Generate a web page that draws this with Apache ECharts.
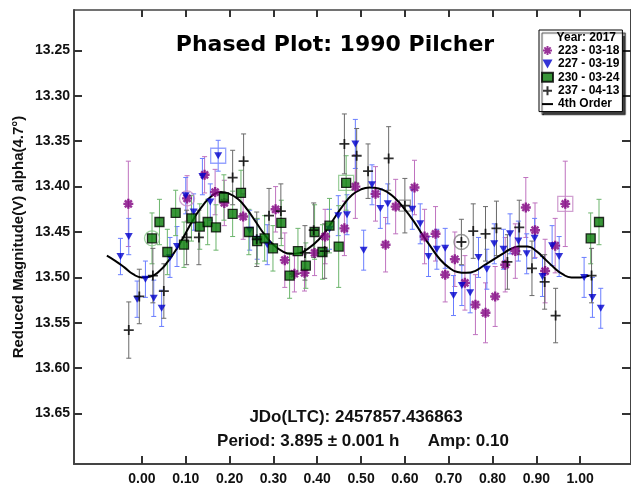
<!DOCTYPE html>
<html>
<head>
<meta charset="utf-8">
<script src="https://cdn.jsdelivr.net/npm/echarts@6.0.0/dist/echarts.min.js"></script>
<style>
html, body { margin: 0; padding: 0; background: #fff; }
#chart { width: 631px; height: 487px; }
</style>
</head>
<body>
<div id="chart"></div>
<script>
// tick labels
const xTicks = [0, 0.1, 0.2, 0.3, 0.4, 0.5, 0.6, 0.7, 0.8, 0.9, 1.0]
const yTicks = [13.25, 13.30, 13.35, 13.40, 13.45, 13.50, 13.55, 13.60, 13.65]

// session 223 - 03-18
const phase223 = [-0.031, 0.103, 0.143, 0.167, 0.188, 0.231, 0.305, 0.326, 0.348, 0.371, 0.394, 0.418, 0.462, 0.487, 0.533, 0.556, 0.579, 0.622, 0.645, 0.670, 0.692, 0.714, 0.737, 0.761, 0.784, 0.806, 0.829, 0.852, 0.876, 0.897, 0.920, 0.943, 0.966]
const mag223 = [13.419, 13.413, 13.387, 13.406, 13.418, 13.433, 13.425, 13.481, 13.496, 13.495, 13.473, 13.455, 13.446, 13.400, 13.408, 13.464, 13.422, 13.401, 13.455, 13.452, 13.497, 13.480, 13.506, 13.530, 13.539, 13.521, 13.486, 13.471, 13.423, 13.448, 13.493, 13.465, 13.419]
const err223 = [0.047, 0.025, 0.02, 0.025, 0.025, 0.025, 0.025, 0.03, 0.02, 0.02, 0.025, 0.03, 0.03, 0.035, 0.03, 0.03, 0.03, 0.03, 0.03, 0.03, 0.03, 0.03, 0.03, 0.033, 0.033, 0.033, 0.03, 0.03, 0.033, 0.03, 0.035, 0.03, 0.047]

// session 227 - 03-19
const phase227 = [-0.049, -0.030, -0.011, 0.008, 0.027, 0.045, 0.064, 0.080, 0.100, 0.118, 0.138, 0.156, 0.174, 0.246, 0.263, 0.286, 0.428, 0.448, 0.468, 0.487, 0.506, 0.525, 0.544, 0.561, 0.617, 0.635, 0.654, 0.673, 0.692, 0.711, 0.730, 0.749, 0.768, 0.787, 0.804, 0.825, 0.840, 0.859, 0.878, 0.896, 0.914, 0.936, 0.952, 1.009, 1.028, 1.047]
const mag227 = [13.477, 13.455, 13.524, 13.502, 13.523, 13.534, 13.478, 13.466, 13.410, 13.428, 13.389, 13.417, 13.366, 13.448, 13.458, 13.464, 13.447, 13.432, 13.431, 13.353, 13.470, 13.398, 13.424, 13.419, 13.425, 13.441, 13.477, 13.469, 13.468, 13.520, 13.509, 13.517, 13.478, 13.491, 13.463, 13.469, 13.452, 13.460, 13.474, 13.457, 13.499, 13.465, 13.477, 13.500, 13.522, 13.534]
const err227 = [0.02, 0.02, 0.02, 0.02, 0.02, 0.02, 0.022, 0.022, 0.02, 0.02, 0.02, 0.02, 0.017, 0.022, 0.022, 0.022, 0.022, 0.022, 0.022, 0.027, 0.022, 0.022, 0.022, 0.022, 0.022, 0.022, 0.022, 0.022, 0.022, 0.022, 0.022, 0.022, 0.022, 0.022, 0.022, 0.022, 0.022, 0.022, 0.022, 0.022, 0.022, 0.022, 0.022, 0.022, 0.022, 0.022]

// session 230 - 03-24
const phase230 = [0.023, 0.040, 0.058, 0.077, 0.096, 0.113, 0.132, 0.150, 0.169, 0.187, 0.207, 0.226, 0.244, 0.263, 0.280, 0.299, 0.318, 0.337, 0.356, 0.374, 0.394, 0.412, 0.428, 0.449, 0.466, 1.024, 1.043]
const mag230 = [13.457, 13.439, 13.472, 13.429, 13.464, 13.435, 13.444, 13.439, 13.445, 13.412, 13.430, 13.407, 13.450, 13.460, 13.457, 13.468, 13.440, 13.498, 13.471, 13.487, 13.450, 13.472, 13.443, 13.466, 13.396, 13.457, 13.439]
const err230 = [0.028, 0.025, 0.025, 0.025, 0.025, 0.025, 0.025, 0.025, 0.025, 0.025, 0.025, 0.025, 0.025, 0.025, 0.025, 0.025, 0.025, 0.025, 0.025, 0.025, 0.03, 0.03, 0.03, 0.045, 0.03, 0.028, 0.025]

// session 237 - 04-13
const phase237 = [-0.030, -0.006, 0.025, 0.050, 0.102, 0.130, 0.207, 0.232, 0.262, 0.290, 0.317, 0.372, 0.392, 0.417, 0.462, 0.490, 0.516, 0.563, 0.600, 0.729, 0.756, 0.784, 0.809, 0.834, 0.861, 0.890, 0.919, 0.944, 1.026]
const mag237 = [13.558, 13.521, 13.498, 13.515, 13.456, 13.456, 13.390, 13.372, 13.458, 13.432, 13.427, 13.473, 13.448, 13.471, 13.353, 13.366, 13.383, 13.369, 13.421, 13.461, 13.449, 13.452, 13.446, 13.483, 13.445, 13.490, 13.505, 13.542, 13.498]
const err237 = [0.031, 0.03, 0.03, 0.03, 0.03, 0.03, 0.03, 0.03, 0.03, 0.03, 0.03, 0.03, 0.03, 0.03, 0.033, 0.03, 0.03, 0.035, 0.03, 0.025, 0.03, 0.03, 0.03, 0.03, 0.03, 0.03, 0.03, 0.03, 0.03]

// 4th order fit
const curvePhase = [-0.08, -0.06, -0.04, -0.02, 0.00, 0.02, 0.04, 0.06, 0.08, 0.10, 0.12, 0.14, 0.16, 0.18, 0.20, 0.22, 0.24, 0.26, 0.28, 0.30, 0.32, 0.34, 0.36, 0.38, 0.40, 0.42, 0.44, 0.46, 0.48, 0.50, 0.52, 0.54, 0.56, 0.58, 0.60, 0.62, 0.64, 0.66, 0.68, 0.70, 0.72, 0.74, 0.76, 0.78, 0.80, 0.82, 0.84, 0.86, 0.88, 0.90, 0.92, 0.94, 0.96, 0.98, 1.00, 1.02]
const curveMag = [13.476, 13.482, 13.489, 13.4965, 13.500, 13.499, 13.493, 13.482, 13.468, 13.451, 13.434, 13.420, 13.410, 13.406, 13.408, 13.414, 13.425, 13.439, 13.453, 13.464, 13.471, 13.474, 13.473, 13.468, 13.460, 13.449, 13.434, 13.420, 13.409, 13.403, 13.401, 13.402, 13.406, 13.414, 13.425, 13.438, 13.453, 13.467, 13.480, 13.489, 13.494, 13.495, 13.493, 13.487, 13.481, 13.475, 13.469, 13.466, 13.466, 13.471, 13.480, 13.489, 13.4965, 13.500, 13.500, 13.498]

// highlighted points (rings / boxes)
const hlPhase = [0.023, 0.103, 0.729, 0.174, 0.466, 0.966, 0.600]
const hlMag = [13.457, 13.413, 13.461, 13.366, 13.396, 13.419, 13.421]
const hlShape = ['circle', 'circle', 'circle', 'rect', 'rect', 'rect', 'rect']
const hlSet = ['230', '223', '237', '227', '230', '223', '237']

const sets = [
	{ key: '223', name: '223 - 03-18', phase: phase223, mag: mag223, err: err223 },
	{ key: '227', name: '227 - 03-19', phase: phase227, mag: mag227, err: err227 },
	{ key: '230', name: '230 - 03-24', phase: phase230, mag: mag230, err: err230 },
	{ key: '237', name: '237 - 04-13', phase: phase237, mag: mag237, err: err237 }
]

const barColor = { '223': '#bf72bf', '227': '#6a7eff', '230': '#6cb56c', '237': '#6a6a6a' }
const ringColor = { '223': '#c68ac6', '227': '#7d8dff', '230': '#85c485', '237': '#808080' }

const markStyle = {
	'223': {
		symbol: 'path://M5,0L5,10M0,5L10,5M1.5,1.5L8.5,8.5M8.5,1.5L1.5,8.5',
		symbolSize: 10,
		itemStyle: { color: '#800080', borderColor: '#800080', borderWidth: 2.4 }
	},
	'227': {
		symbol: 'path://M0,0L10,0L5,9Z',
		symbolSize: [8, 7],
		itemStyle: { color: '#0000cc' }
	},
	'230': {
		symbol: 'rect',
		symbolSize: 9,
		itemStyle: { color: '#087a08', borderColor: '#000', borderWidth: 1.3 }
	},
	'237': {
		symbol: 'path://M5,0L5,10M0,5L10,5',
		symbolSize: 10,
		itemStyle: { color: '#000', borderColor: '#000', borderWidth: 1.8 }
	}
}

const xMin = -0.155
const xMax = 1.116
const yMin = 13.2055
const yMax = 13.7055
const axisColor = '#444'
const font = 'Liberation Sans, Arial, sans-serif'

const renderErr = (params, api) => {
	const x = api.value(0)
	const y = api.value(1)
	const e = api.value(2)
	const top = api.coord([x, y - e])
	const bot = api.coord([x, y + e])
	const hw = 2.5
	const style = { stroke: api.visual('color'), lineWidth: 1 }
	return {
		type: 'group',
		children: [
			{ type: 'line', shape: { x1: top[0], y1: top[1], x2: bot[0], y2: bot[1] }, style },
			{ type: 'line', shape: { x1: top[0] - hw, y1: top[1], x2: top[0] + hw, y2: top[1] }, style },
			{ type: 'line', shape: { x1: bot[0] - hw, y1: bot[1], x2: bot[0] + hw, y2: bot[1] }, style }
		]
	}
}

const errSeries = sets.map((s) => ({
	type: 'custom',
	name: 'err' + s.key,
	renderItem: renderErr,
	itemStyle: { color: barColor[s.key] },
	encode: { x: 0, y: 1 },
	z: 2,
	silent: true,
	data: s.phase.map((p, i) => [p, s.mag[i], s.err[i]])
}))

const ringSeries = {
	type: 'scatter',
	name: 'rings',
	z: 3,
	silent: true,
	data: hlPhase.map((p, i) => ({
		value: [p, hlMag[i]],
		symbol: hlShape[i],
		symbolSize: hlSet[i] === '237' && hlShape[i] === 'rect' ? 11 : 15,
		itemStyle: { color: 'rgba(0,0,0,0)', borderColor: ringColor[hlSet[i]], borderWidth: 1.3 }
	}))
}

const pointSeries = sets.map((s) => ({
	type: 'scatter',
	name: s.name,
	z: 5,
	symbol: markStyle[s.key].symbol,
	symbolSize: markStyle[s.key].symbolSize,
	itemStyle: markStyle[s.key].itemStyle,
	data: s.phase.map((p, i) => [p, s.mag[i]])
}))

const curveSeries = {
	type: 'line',
	name: '4th Order',
	z: 4,
	smooth: 0.5,
	symbol: 'none',
	lineStyle: { color: '#000', width: 2 },
	itemStyle: { color: '#000' },
	data: curvePhase.map((p, i) => [p, curveMag[i]])
}

const chart = echarts.init(document.getElementById('chart'), null, { renderer: 'canvas' })

const option = {
	animation: false,
	backgroundColor: '#fff',
	title: {
		text: 'Phased Plot: 1990 Pilcher',
		left: 330,
		top: 29,
		textAlign: 'center',
		textStyle: { fontFamily: 'DejaVu Sans', fontWeight: 'bold', fontSize: 22, color: '#000' }
	},
	grid: { left: 74, top: 10, right: -1, bottom: 23 },
	xAxis: [
		{
			type: 'value',
			min: xMin,
			max: xMax,
			position: 'bottom',
			axisLine: { show: true, onZero: false, lineStyle: { color: axisColor, width: 2 } },
			axisTick: { show: true, inside: true, length: 8, customValues: xTicks, lineStyle: { color: '#333', width: 2 } },
			splitLine: { show: false },
			axisLabel: {
				customValues: xTicks,
				margin: 8,
				color: '#111',
				fontFamily: font,
				fontWeight: 'bold',
				fontSize: 14,
				formatter: (v) => v.toFixed(2)
			}
		},
		{
			type: 'value',
			min: xMin,
			max: xMax,
			position: 'top',
			axisLine: { show: true, onZero: false, lineStyle: { color: axisColor, width: 1.5 } },
			axisTick: { show: true, inside: true, length: 7, customValues: xTicks, lineStyle: { color: '#333', width: 2 } },
			splitLine: { show: false },
			axisLabel: { show: false, customValues: xTicks }
		}
	],
	yAxis: [
		{
			type: 'value',
			inverse: true,
			min: yMin,
			max: yMax,
			position: 'left',
			axisLine: { show: true, onZero: false, lineStyle: { color: axisColor, width: 2 } },
			axisTick: { show: true, inside: true, length: 8, customValues: yTicks, lineStyle: { color: '#333', width: 2 } },
			splitLine: { show: false },
			axisLabel: {
				customValues: yTicks,
				margin: 4,
				color: '#111',
				fontFamily: font,
				fontWeight: 'bold',
				fontSize: 14,
				formatter: (v) => v.toFixed(2)
			}
		},
		{
			type: 'value',
			inverse: true,
			min: yMin,
			max: yMax,
			position: 'right',
			axisLine: { show: true, onZero: false, lineStyle: { color: axisColor, width: 2 } },
			axisTick: { show: true, inside: true, length: 9, customValues: yTicks, lineStyle: { color: '#333', width: 2 } },
			splitLine: { show: false },
			axisLabel: { show: false, customValues: yTicks }
		}
	],
	legend: {
		orient: 'vertical',
		left: 539,
		top: 30,
		padding: [14.5, 3, 1.5, 2],
		itemWidth: 11,
		itemHeight: 9,
		itemGap: 1.4,
		selectedMode: false,
		backgroundColor: '#fff',
		borderColor: '#000',
		borderWidth: 1,
		shadowColor: 'rgba(0,0,0,0.75)',
		shadowBlur: 1,
		shadowOffsetX: 3,
		shadowOffsetY: 3,
		textStyle: { fontFamily: font, fontWeight: 'bold', fontSize: 12, color: '#000' },
		data: sets.map((s) => s.name).concat([{ name: '4th Order', itemStyle: { opacity: 0 } }])
	},
	graphic: [
		{
			type: 'text',
			right: 15,
			top: 32,
			style: { text: 'Year: 2017', font: 'bold 12px ' + font, fill: '#000' },
			z: 100
		},
		{
			type: 'text',
			x: 19,
			y: 237,
			rotation: Math.PI / 2,
			style: {
				text: 'Reduced Magnitude(V) alpha(4.7°)',
				font: 'bold 15px ' + font,
				fill: '#111',
				textAlign: 'center',
				textVerticalAlign: 'middle'
			}
		},
		{
			type: 'text',
			x: 356,
			y: 417,
			style: {
				text: 'JDo(LTC): 2457857.436863',
				font: 'bold 17px ' + font,
				fill: '#111',
				textAlign: 'center',
				textVerticalAlign: 'middle'
			}
		},
		{
			type: 'text',
			x: 363,
			y: 441,
			style: {
				text: 'Period: 3.895 ± 0.001 h      Amp: 0.10',
				font: 'bold 17px ' + font,
				fill: '#111',
				textAlign: 'center',
				textVerticalAlign: 'middle'
			}
		}
	],
	series: [...errSeries, curveSeries, ringSeries, ...pointSeries]
}

chart.setOption(option)
</script>
</body>
</html>
